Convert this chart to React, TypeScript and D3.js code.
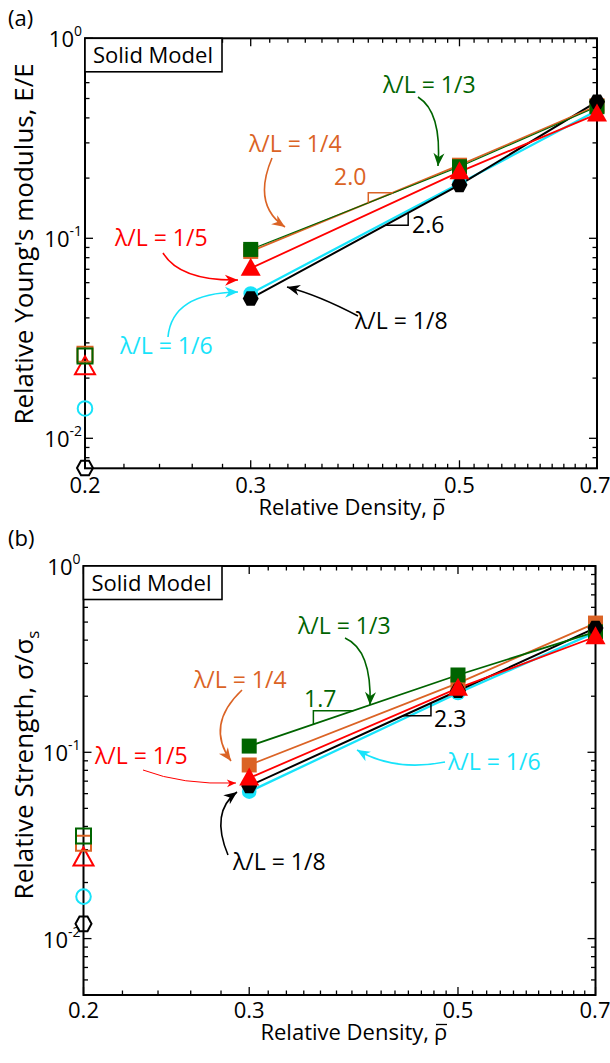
import React from 'react';
import * as d3 from 'd3';

// ---------- data ----------
const densities = [0.2, 0.3, 0.5, 0.7];

// Relative Young's modulus (panel a)
const modulusThird = [0.0258, 0.088, 0.228, 0.455];
const modulusQuarter = [0.0263, 0.086, 0.232, 0.46];
const modulusFifth = [0.0228, 0.0708, 0.215, 0.418];
const modulusSixth = [0.0141, 0.053, 0.188, 0.435];
const modulusEighth = [0.0071, 0.05, 0.185, 0.482];

// Relative strength (panel b)
const strengthThird = [0.0355, 0.108, 0.26, 0.443];
const strengthQuarter = [0.0325, 0.0855, 0.235, 0.494];
const strengthFifth = [0.0271, 0.0728, 0.221, 0.417];
const strengthSixth = [0.0168, 0.0615, 0.208, 0.44];
const strengthEighth = [0.012, 0.066, 0.214, 0.465];

const xTickValues = [0.2, 0.3, 0.5, 0.7];
const xTickLabels = ['0.2', '0.3', '0.5', '0.7'];
const yTickExponents = [0, -1, -2];
const seriesLabels = ['λ/L = 1/6', 'λ/L = 1/8', 'λ/L = 1/5', 'λ/L = 1/4', 'λ/L = 1/3'];

// ---------- styles ----------
const GREEN = '#006400';
const ORANGE = '#DB6325';
const RED = '#FF0000';
const CYAN = '#18E3FA';
const BLACK = '#000000';
const FONT = "'Open Sans', sans-serif";

type Series = { key: string; color: string; shape: string; values: number[]; width: number };

const modulusSeries: Series[] = [
  { key: '1/6', color: CYAN, shape: 'circle', values: modulusSixth, width: 2.3 },
  { key: '1/8', color: BLACK, shape: 'hexagon', values: modulusEighth, width: 2 },
  { key: '1/5', color: RED, shape: 'triangle', values: modulusFifth, width: 1.8 },
  { key: '1/4', color: ORANGE, shape: 'square', values: modulusQuarter, width: 1.8 },
  { key: '1/3', color: GREEN, shape: 'square', values: modulusThird, width: 1.2 },
];
const strengthSeries: Series[] = [
  { key: '1/6', color: CYAN, shape: 'circle', values: strengthSixth, width: 2.3 },
  { key: '1/8', color: BLACK, shape: 'hexagon', values: strengthEighth, width: 2 },
  { key: '1/5', color: RED, shape: 'triangle', values: strengthFifth, width: 1.8 },
  { key: '1/4', color: ORANGE, shape: 'square', values: strengthQuarter, width: 1.8 },
  { key: '1/3', color: GREEN, shape: 'square', values: strengthThird, width: 1.8 },
];
// stacking order of the filled markers (bottom -> top)
const markerOrder = ['1/6', '1/4', '1/3', '1/8', '1/5'];

type Label = { text: string; x: number; y: number; color: string };
type Arrow = { s: [number, number]; c: [number, number]; e: [number, number]; color: string; w?: number; head?: number };
type Slope = { series: string; x1: number; x2: number; kind: 'above' | 'below'; color: string };

type PanelCfg = {
  tag: string; tagY: number;
  left: number; right: number; top: number; bottom: number; yMin: number;
  series: Series[];
  yTitle: React.ReactNode; yTitleCenter: number;
  xTitleX: number; xTitleY: number; tickOffset: number;
  labels: Label[]; arrows: Arrow[]; slopes: Slope[];
};

const panels: PanelCfg[] = [
  {
    tag: '(a)', tagY: 26,
    left: 85, right: 597, top: 38.3, bottom: 468.3, yMin: 0.00708,
    series: modulusSeries,
    yTitle: <tspan>Relative Young's modulus, E/E</tspan>,
    yTitleCenter: 244,
    xTitleX: 427, xTitleY: 515, tickOffset: 24.5,
    labels: [
      { text: seriesLabels[4], x: 383, y: 93, color: GREEN },
      { text: seriesLabels[3], x: 249, y: 152, color: ORANGE },
      { text: seriesLabels[2], x: 115, y: 246, color: RED },
      { text: seriesLabels[0], x: 120, y: 354, color: CYAN },
      { text: seriesLabels[1], x: 355, y: 329, color: BLACK },
      { text: '2.0', x: 334, y: 185, color: ORANGE },
      { text: '2.6', x: 412, y: 233, color: BLACK },
    ],
    arrows: [
      { s: [418, 97], c: [442, 112], e: [438, 166], color: GREEN },
      { s: [272, 158], c: [252, 205], e: [285, 227], color: ORANGE },
      { s: [163, 253], c: [180, 281], e: [238, 280], color: RED },
      { s: [168, 337], c: [172, 293], e: [238, 292], color: CYAN },
      { s: [358, 316], c: [318, 295], e: [287, 287], color: BLACK },
    ],
    slopes: [
      { series: '1/4', x1: 0.4, x2: 0.425, kind: 'above', color: ORANGE },
      { series: '1/8', x1: 0.417, x2: 0.441, kind: 'below', color: BLACK },
    ],
  },
  {
    tag: '(b)', tagY: 546,
    left: 83.5, right: 595.5, top: 566, bottom: 995, yMin: 0.00498,
    series: strengthSeries,
    yTitle: (
      <>
        <tspan>Relative Strength, σ/σ</tspan>
        <tspan fontSize={17} dy={6}>s</tspan>
      </>
    ),
    yTitleCenter: 765,
    xTitleX: 429, xTitleY: 1040, tickOffset: 23,
    labels: [
      { text: seriesLabels[4], x: 298, y: 634, color: GREEN },
      { text: seriesLabels[3], x: 194, y: 688, color: ORANGE },
      { text: seriesLabels[2], x: 95, y: 764, color: RED },
      { text: seriesLabels[0], x: 448, y: 770, color: CYAN },
      { text: seriesLabels[1], x: 233, y: 870, color: BLACK },
      { text: '1.7', x: 304, y: 707, color: GREEN },
      { text: '2.3', x: 434, y: 727, color: BLACK },
    ],
    arrows: [
      { s: [345, 638], c: [372, 650], e: [370, 705], color: GREEN },
      { s: [242, 690], c: [205, 725], e: [231, 761], color: ORANGE },
      { s: [143, 770], c: [182, 785], e: [236, 783], color: RED, w: 1, head: 0.7 },
      { s: [445, 762], c: [395, 772], e: [357, 750], color: CYAN },
      { s: [228, 855], c: [210, 812], e: [237, 792], color: BLACK },
    ],
    slopes: [
      { series: '1/3', x1: 0.351, x2: 0.387, kind: 'above', color: GREEN },
      { series: '1/8', x1: 0.437, x2: 0.468, kind: 'below', color: BLACK },
    ],
  },
];

// minor x ticks as they appear on the plotted axis
const xMinorTicks = [
  ...d3.range(1, 5).map((i) => 0.2 + i * 0.02),
  ...d3.range(1, 14).map((i) => 0.3 + (i * 0.2) / 14),
  ...d3.range(1, 11).map((i) => 0.5 + (i * 0.2) / 11),
];

function shapePath(shape: string): string {
  switch (shape) {
    case 'square':
      return 'M-7.5,-7.5H7.5V7.5H-7.5Z';
    case 'triangle':
      return 'M0,-10.5L10,7.5H-10Z';
    case 'hexagon':
      return 'M-8,0L-4,-7.3H4L8,0L4,7.3H-4Z';
    default:
      return d3.arc()({ innerRadius: 0, outerRadius: 7.3, startAngle: 0, endAngle: 2 * Math.PI }) as string;
  }
}

function arrowHead(c: [number, number], e: [number, number], k = 1): string {
  const dx = e[0] - c[0];
  const dy = e[1] - c[1];
  const L = Math.hypot(dx, dy);
  const ux = dx / L;
  const uy = dy / L;
  const len = 13 * k;
  const half = 5.5 * k;
  const bx = e[0] - ux * len;
  const by = e[1] - uy * len;
  const nx = e[0] - ux * len * 0.7;
  const ny = e[1] - uy * len * 0.7;
  return `M${e[0]},${e[1]}L${bx - uy * half},${by + ux * half}L${nx},${ny}L${bx + uy * half},${by - ux * half}Z`;
}

function Panel({ cfg }: { cfg: PanelCfg }) {
  const x = d3.scaleLog().domain([0.2, 0.7]).range([cfg.left, cfg.right]);
  const y = d3.scaleLog().domain([cfg.yMin, 1]).range([cfg.bottom, cfg.top]);

  const yMinor: number[] = [];
  [0.001, 0.01, 0.1].forEach((dec) => {
    for (let m = 2; m <= 9; m++) {
      const v = m * dec;
      if (v > cfg.yMin && v < 1) yMinor.push(v);
    }
  });
  const yMajor = yTickExponents.map((e) => Math.pow(10, e));

  const line = d3
    .line<[number, number]>()
    .x((d) => x(d[0]))
    .y((d) => y(d[1]));

  const lineValue = (s: Series, xv: number) => {
    const idx = xv < 0.5 ? 1 : 2;
    const x0 = densities[idx];
    const x1 = densities[idx + 1];
    const t = Math.log(xv / x0) / Math.log(x1 / x0);
    return Math.exp(Math.log(s.values[idx]) + t * Math.log(s.values[idx + 1] / s.values[idx]));
  };

  const ordered = markerOrder.map((k) => cfg.series.find((s) => s.key === k)!);

  const tickW = 1.3;
  return (
    <g>
      <text x={8} y={cfg.tagY} fontSize={22} fontFamily={FONT}>
        {cfg.tag}
      </text>

      {/* ticks */}
      <g stroke={BLACK} strokeWidth={tickW}>
        {yMajor.map((v) => (
          <g key={'ym' + v}>
            <line x1={cfg.left} x2={cfg.left + 8} y1={y(v)} y2={y(v)} />
            <line x1={cfg.right} x2={cfg.right - 8} y1={y(v)} y2={y(v)} />
          </g>
        ))}
        {yMinor.map((v) => (
          <g key={'yn' + v}>
            <line x1={cfg.left} x2={cfg.left + 4.5} y1={y(v)} y2={y(v)} />
            <line x1={cfg.right} x2={cfg.right - 4.5} y1={y(v)} y2={y(v)} />
          </g>
        ))}
        {xTickValues.map((v) => (
          <g key={'xm' + v}>
            <line x1={x(v)} x2={x(v)} y1={cfg.bottom} y2={cfg.bottom - 8} />
            <line x1={x(v)} x2={x(v)} y1={cfg.top} y2={cfg.top + 8} />
          </g>
        ))}
        {xMinorTicks.map((v) => (
          <g key={'xn' + v}>
            <line x1={x(v)} x2={x(v)} y1={cfg.bottom} y2={cfg.bottom - 4.5} />
            <line x1={x(v)} x2={x(v)} y1={cfg.top} y2={cfg.top + 4.5} />
          </g>
        ))}
      </g>

      {/* frame */}
      <rect
        x={cfg.left}
        y={cfg.top}
        width={cfg.right - cfg.left}
        height={cfg.bottom - cfg.top}
        fill="none"
        stroke={BLACK}
        strokeWidth={2}
      />

      {/* Solid Model box */}
      <rect x={cfg.left} y={cfg.top} width={222 - cfg.left} height={33.5} fill="#fff" stroke={BLACK} strokeWidth={1.6} />
      <text x={cfg.left + 8} y={cfg.top + 24.5} fontSize={22} fontFamily={FONT}>
        Solid Model
      </text>

      {/* y tick labels */}
      {yTickExponents.map((e) => (
        <text key={'yl' + e} x={cfg.left - 3} y={y(Math.pow(10, e)) + 9} textAnchor="end" fontSize={22} fontFamily={FONT}>
          <tspan>10</tspan>
          <tspan fontSize={14} dy={-11}>
            {e === 0 ? '0' : String(e)}
          </tspan>
        </text>
      ))}

      {/* x tick labels */}
      {xTickValues.map((v, i) => (
        <text
          key={'xl' + v}
          x={Math.min(x(v), 610 - 15)}
          y={cfg.bottom + cfg.tickOffset}
          textAnchor="middle"
          fontSize={22}
          fontFamily={FONT}
        >
          {xTickLabels[i]}
        </text>
      ))}

      {/* x title */}
      <text x={cfg.xTitleX} y={cfg.xTitleY} textAnchor="end" fontSize={22} fontFamily={FONT}>
        Relative Density,
      </text>
      <text x={cfg.xTitleX + 5} y={cfg.xTitleY} fontSize={22} fontFamily={FONT}>
        ρ
      </text>
      <line
        x1={cfg.xTitleX + 7}
        x2={cfg.xTitleX + 18}
        y1={cfg.xTitleY - 15.5}
        y2={cfg.xTitleY - 15.5}
        stroke={BLACK}
        strokeWidth={1.3}
      />

      {/* y title */}
      <text
        transform={`translate(33,${cfg.yTitleCenter}) rotate(-90)`}
        textAnchor="middle"
        fontSize={26}
        fontFamily={FONT}
      >
        {cfg.yTitle}
      </text>

      {/* data lines */}
      {cfg.series.map((s) => (
        <path
          key={'ln' + s.key}
          d={line(densities.slice(1).map((d, i) => [d, s.values[i + 1]] as [number, number])) as string}
          fill="none"
          stroke={s.color}
          strokeWidth={s.width}
        />
      ))}

      {/* open markers at 0.2 */}
      {cfg.series.map((s) => (
        <path
          key={'om' + s.key}
          d={shapePath(s.shape)}
          transform={`translate(${x(densities[0])},${y(s.values[0])})`}
          fill="none"
          stroke={s.color}
          strokeWidth={2}
        />
      ))}

      {/* filled markers */}
      {ordered.map((s) =>
        densities.slice(1).map((d, i) => (
          <path
            key={'fm' + s.key + d}
            d={shapePath(s.shape)}
            transform={`translate(${x(d)},${y(s.values[i + 1])})`}
            fill={s.color}
            stroke="none"
          />
        ))
      )}

      {/* slope triangles */}
      {cfg.slopes.map((sl, i) => {
        const s = cfg.series.find((q) => q.key === sl.series)!;
        const y1 = y(lineValue(s, sl.x1));
        const y2 = y(lineValue(s, sl.x2));
        const X1 = x(sl.x1);
        const X2 = x(sl.x2);
        const pts =
          sl.kind === 'above'
            ? `${X1},${y1} ${X1},${y2} ${X2},${y2}`
            : `${X1},${y1} ${X2},${y1} ${X2},${y2}`;
        return <polyline key={'sl' + i} points={pts} fill="none" stroke={sl.color} strokeWidth={1.5} />;
      })}

      {/* annotation arrows */}
      {cfg.arrows.map((a, i) => {
        const p = d3.path();
        p.moveTo(a.s[0], a.s[1]);
        p.quadraticCurveTo(a.c[0], a.c[1], a.e[0], a.e[1]);
        return (
          <g key={'ar' + i}>
            <path d={p.toString()} fill="none" stroke={a.color} strokeWidth={a.w ?? 1.6} />
            <path d={arrowHead(a.c, a.e, a.head ?? 1)} fill={a.color} />
          </g>
        );
      })}

      {/* annotation labels */}
      {cfg.labels.map((l, i) => (
        <text key={'lb' + i} x={l.x} y={l.y} fill={l.color} fontSize={23} fontFamily={FONT}>
          {l.text}
        </text>
      ))}
    </g>
  );
}

export default function App() {
  return (
    <div>
      <style>{`body{margin:0;background:#fff}`}</style>
      <svg width={610} height={1063} style={{ display: 'block' }}>
        <rect width={610} height={1063} fill="#fff" />
        {panels.map((p) => (
          <Panel key={p.tag} cfg={p} />
        ))}
      </svg>
    </div>
  );
}
